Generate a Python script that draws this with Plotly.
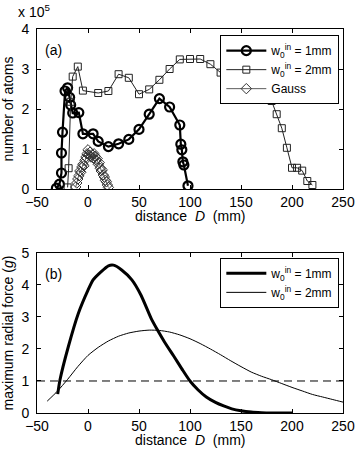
import plotly.graph_objects as go

# ---- panel (a): number of atoms (units of 1e5) ----
x_1mm = [-31, -28, -26, -26, -25, -22.5, -20, -18, -17, -15, -9, -5, 5, 10, 20, 30, 40, 50, 60, 70, 80, 90, 91, 92, 93, 94, 98]
n_1mm = [0.02, 0.12, 0.40, 0.90, 1.42, 2.45, 2.53, 2.29, 2.10, 1.90, 1.91, 1.38, 1.38, 1.19, 1.06, 1.13, 1.24, 1.49, 1.87, 2.26, 2.05, 1.60, 1.12, 0.98, 0.68, 0.60, 0.08]

x_2mm = [-20, -19, -17, -15, -10, -5, 10, 20, 30, 40, 50, 60, 70, 80, 90, 100, 110, 120, 130, 140, 150, 160, 170, 180, 185, 190, 195, 200, 205, 210, 215, 220]
n_2mm = [0.04, 0.52, 2.18, 2.81, 3.06, 2.46, 2.40, 2.45, 2.87, 2.78, 2.37, 2.49, 2.73, 3.00, 3.24, 3.25, 3.25, 3.12, 2.91, 2.75, 2.60, 2.45, 2.29, 2.20, 1.87, 1.52, 1.03, 0.53, 0.53, 0.46, 0.20, 0.10]

x_gauss = [-12, -11, -10, -9, -8, -7, -6, -5, -4, -3, -2, -1, 0, 1, 2, 3, 4, 5, 6, 7, 8, 9, 10, 11, 12, 13, 14, 15, 16, 17, 18, 19, 20]
n_gauss = [0.05, 0.15, 0.25, 0.33, 0.45, 0.42, 0.55, 0.62, 0.58, 0.72, 0.80, 0.88, 0.98, 0.85, 0.92, 0.80, 0.86, 0.78, 0.88, 0.82, 0.72, 0.76, 0.62, 0.66, 0.52, 0.45, 0.48, 0.35, 0.30, 0.22, 0.18, 0.10, 0.04]

# ---- panel (b): maximum radial force (units of g) ----
x_f1 = [-29.7, -27.5, -19.3, -9.5, 0, 5, 13, 20, 25, 33, 43, 52, 62, 68, 75, 84, 92, 100, 108, 116, 125, 133, 141, 150, 160, 170, 180, 200]
f_1mm = [0.59, 1.03, 2.07, 3.11, 3.84, 4.16, 4.42, 4.60, 4.62, 4.47, 4.16, 3.68, 2.95, 2.60, 2.22, 1.78, 1.38, 1.00, 0.72, 0.50, 0.33, 0.22, 0.13, 0.07, 0.03, 0.01, 0.0, 0.0]

x_f2 = [-40, -30, -20, -10, 0, 10, 20, 30, 40, 50, 60, 70, 80, 90, 100, 110, 120, 130, 140, 150, 160, 170, 180, 190, 200, 210, 220, 230, 240, 250]
f_2mm = [0.37, 0.68, 1.05, 1.45, 1.80, 2.05, 2.25, 2.40, 2.50, 2.56, 2.59, 2.58, 2.53, 2.44, 2.32, 2.17, 2.00, 1.82, 1.63, 1.45, 1.28, 1.15, 1.04, 0.92, 0.80, 0.69, 0.58, 0.50, 0.42, 0.34]

threshold_x = [-50, 250]
threshold_g = [1, 1]

FONT = "Liberation Sans, Arial, Helvetica, sans-serif"
LEG1 = "w<sub>0</sub><sup>in</sup> = 1mm"
LEG2 = "w<sub>0</sub><sup>in</sup> = 2mm"
XTITLE = "distance\u00a0\u00a0<i>D</i>\u00a0\u00a0(mm)"

fig = go.Figure()

fig.add_trace(go.Scatter(x=x_1mm, y=n_1mm, mode="lines+markers", name=LEG1,
                         line=dict(color="black", width=2.2),
                         marker=dict(symbol="circle-open", size=9, color="black", line=dict(width=2.2)),
                         xaxis="x", yaxis="y", legend="legend"))
fig.add_trace(go.Scatter(x=x_2mm, y=n_2mm, mode="lines+markers", name=LEG2,
                         line=dict(color="#222222", width=1),
                         marker=dict(symbol="square-open", size=7, color="#222222", line=dict(width=1)),
                         xaxis="x", yaxis="y", legend="legend"))
fig.add_trace(go.Scatter(x=x_gauss, y=n_gauss, mode="lines+markers", name="Gauss",
                         line=dict(color="#333333", width=0.8),
                         marker=dict(symbol="diamond-open", size=8, color="#333333", line=dict(width=1)),
                         xaxis="x", yaxis="y", legend="legend"))

fig.add_trace(go.Scatter(x=x_f1, y=f_1mm, mode="lines", name=LEG1,
                         line=dict(color="black", width=3, shape="spline", smoothing=0.6),
                         xaxis="x2", yaxis="y2", legend="legend2"))
fig.add_trace(go.Scatter(x=x_f2, y=f_2mm, mode="lines", name=LEG2,
                         line=dict(color="black", width=1, shape="spline", smoothing=0.6),
                         xaxis="x2", yaxis="y2", legend="legend2"))
fig.add_trace(go.Scatter(x=threshold_x, y=threshold_g, mode="lines", showlegend=False,
                         line=dict(color="black", width=1, dash="8px,5px"),
                         xaxis="x2", yaxis="y2"))

TICKFONT = dict(family=FONT, size=14, color="black")
ax_common = dict(showline=True, linecolor="black", linewidth=1, mirror="allticks",
                 ticks="inside", ticklen=4, tickcolor="black", tickwidth=1,
                 showgrid=False, zeroline=False, automargin=False,
                 tickfont=TICKFONT)

xt = dict(range=[-50, 250], tickvals=[-50, 0, 50, 100, 150, 200, 250], ticklabelstandoff=0)

fig.update_layout(
    width=360, height=454, autosize=False,
    margin=dict(l=37, r=17, t=29, b=41, autoexpand=False),
    paper_bgcolor="white", plot_bgcolor="white",
    font=dict(family=FONT, size=12, color="black"),
    xaxis=dict(**ax_common, **xt, domain=[0, 1], anchor="y"),
    yaxis=dict(**ax_common, range=[0, 4], tickvals=[0, 1, 2, 3, 4], domain=[0.5833, 1.0], anchor="x",
               ticklabelstandoff=4,
               title=dict(text="number of atoms", font=TICKFONT, standoff=4)),
    xaxis2=dict(**ax_common, **xt, domain=[0, 1], anchor="y2"),
    yaxis2=dict(**ax_common, range=[0, 5], tickvals=[0, 1, 2, 3, 4, 5], domain=[0, 0.4167], anchor="x2",
                ticklabelstandoff=4,
                title=dict(text="maximum radial force (<i>g</i>)", font=TICKFONT, standoff=4)),
    legend=dict(x=0.988, xanchor="right", y=0.984, yanchor="top", bgcolor="white",
                bordercolor="black", borderwidth=1, itemwidth=40,
                font=dict(family=FONT, size=12, color="black"), tracegroupgap=0),
    legend2=dict(x=0.988, xanchor="right", y=0.404, yanchor="top", bgcolor="white",
                 bordercolor="black", borderwidth=1, itemwidth=40,
                 font=dict(family=FONT, size=12, color="black"), tracegroupgap=0),
    annotations=[
        dict(text="(a)", xref="x domain", yref="y domain", x=0.02, y=0.87, xanchor="left", yanchor="middle",
             showarrow=False, font=TICKFONT),
        dict(text="(b)", xref="x2 domain", yref="y2 domain", x=0.02, y=0.87, xanchor="left", yanchor="middle",
             showarrow=False, font=TICKFONT),
        dict(text="x 10<sup>5</sup>", xref="paper", yref="paper", x=-0.068, y=1.0, xanchor="left", yanchor="bottom",
             yshift=7, showarrow=False, font=TICKFONT),
        dict(text=XTITLE, xref="x domain", yref="y domain", x=0.5, y=0, xanchor="center", yanchor="top",
             yshift=-17, showarrow=False, font=TICKFONT),
        dict(text=XTITLE, xref="x2 domain", yref="y2 domain", x=0.5, y=0, xanchor="center", yanchor="top",
             yshift=-17, showarrow=False, font=TICKFONT),
    ],
)

fig.write_html("out.html", config={"displayModeBar": False},
               post_script="document.body.style.margin='0';")
